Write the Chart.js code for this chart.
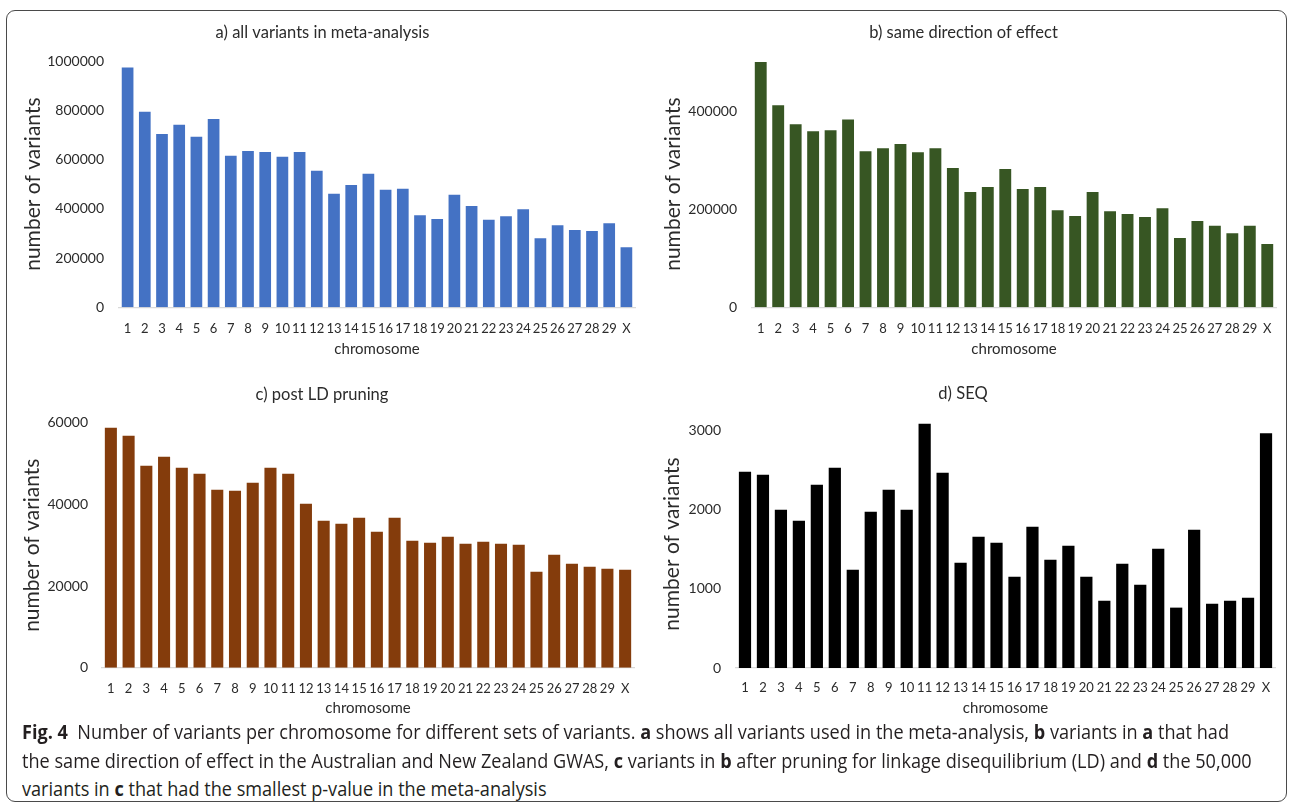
<!DOCTYPE html>
<html>
<head>
<meta charset="utf-8">
<script src="https://cdn.jsdelivr.net/npm/chart.js@4.4.1/dist/chart.umd.min.js"></script>
<style>
  html, body { margin: 0; padding: 0; background: #ffffff; }
  body { width: 1290px; height: 806px; position: relative; overflow: hidden; }
  #frame {
    position: absolute; left: 6px; top: 10px; width: 1281px; height: 792px;
    border: 1.5px solid #4a4a4a; border-radius: 9px; box-sizing: border-box;
  }
  canvas { position: absolute; }
  .cap {
    position: absolute; left: 22px; white-space: nowrap;
    font-family: "Open Sans", "Noto Sans", sans-serif; font-size: 19.5px;
    color: #231f20; transform-origin: 0 50%; line-height: 1;
  }
  .cap b { font-weight: 700; }
</style>
</head>
<body>
<div id="frame"></div>
<canvas id="panelA" width="640" height="355" style="left:10px;top:10px"></canvas>
<canvas id="panelB" width="639" height="355" style="left:651px;top:10px"></canvas>
<canvas id="panelC" width="640" height="350" style="left:10px;top:370px"></canvas>
<canvas id="panelD" width="639" height="350" style="left:651px;top:370px"></canvas>

<div class="cap" id="cap1" style="top:722px"><b>Fig. 4</b>&nbsp; Number of variants per chromosome for different sets of variants. <b>a</b> shows all variants used in the meta-analysis, <b>b</b> variants in <b>a</b> that had</div>
<div class="cap" id="cap2" style="top:751px">the same direction of effect in the Australian and New Zealand GWAS, <b>c</b> variants in <b>b</b> after pruning for linkage disequilibrium (LD) and <b>d</b> the 50,000</div>
<div class="cap" id="cap3" style="top:779px">variants in <b>c</b> that had the smallest p-value in the meta-analysis</div>

<script>
// chromosome categories shared by all four panels
const chromosomes = ['1','2','3','4','5','6','7','8','9','10','11','12','13','14','15',
  '16','17','18','19','20','21','22','23','24','25','26','27','28','29','X'];

// a) all variants in meta-analysis
const allVariants = [974000, 794000, 704000, 741000, 692000, 765000, 615000, 635000, 631000, 611000,
  631000, 554000, 461000, 497000, 542000, 477000, 481000, 374000, 358000, 457000,
  411000, 355000, 370000, 398000, 280000, 333000, 314000, 310000, 341000, 244000];

// b) same direction of effect
const sameDirection = [500000, 412000, 373000, 359000, 361000, 383000, 318000, 324000, 333000, 316000,
  324000, 284000, 235000, 245000, 282000, 241000, 245000, 198000, 186000, 235000,
  196000, 190000, 184000, 202000, 141000, 176000, 166000, 151000, 166000, 129000];

// c) post LD pruning
const postLdPruning = [58750, 56800, 49450, 51650, 48960, 47490, 43570, 43330, 45290, 48960,
  47490, 40150, 35990, 35250, 36720, 33290, 36720, 31090, 30600, 32070,
  30350, 30840, 30350, 30110, 23500, 27660, 25460, 24720, 24240, 23990];

// d) SEQ
const seqVariants = [2475, 2437, 1996, 1857, 2311, 2525, 1239, 1971, 2248, 1996,
  3080, 2462, 1328, 1655, 1580, 1151, 1782, 1366, 1542, 1151,
  849, 1315, 1050, 1504, 761, 1744, 811, 849, 887, 2958];

// y-axis tick values per panel
const ticksA = [0, 200000, 400000, 600000, 800000, 1000000];
const ticksB = [0, 200000, 400000];
const ticksC = [0, 20000, 40000, 60000];
const ticksD = [0, 1000, 2000, 3000];

const FONT = 'Lato, "Open Sans", sans-serif';
const TEXT = '#2b2b2b';

// builds one bar panel; geometry is given in page pixels and converted to paddings
function drawPanel(id, geo, title, values, ticks, yMax, color) {
  const canvas = document.getElementById(id);
  const W = canvas.width, H = canvas.height;
  const cl = geo.left - geo.x, cr = geo.right - geo.x;
  const ct = geo.top - geo.y, cb = geo.bottom - geo.y;

  const titleSize = 16.5, titleLh = titleSize * 1.2;
  const titlePadTop = geo.titleY - geo.y - titleLh / 2;
  const titlePadBottom = ct - titlePadTop - titleLh;

  const yTickSize = 14, yTitleSize = 21, yTitleLh = yTitleSize * 1.2;
  const xTickSize = 13, xTickLh = xTickSize * 1.2;
  const xTitleSize = 15, xTitleLh = xTitleSize * 1.2;

  new Chart(canvas, {
    type: 'bar',
    data: {
      labels: chromosomes,
      datasets: [{
        data: values,
        backgroundColor: color,
        borderWidth: 0,
        categoryPercentage: 1.0,
        barPercentage: 0.68
      }]
    },
    options: {
      responsive: false,
      animation: false,
      devicePixelRatio: 1,
      layout: { padding: { left: 0, top: 0, bottom: 0, right: W - cr } },
      plugins: {
        legend: { display: false },
        tooltip: { enabled: false },
        title: {
          display: true,
          text: title,
          color: TEXT,
          font: { family: FONT, size: titleSize, weight: 'normal' },
          padding: { top: titlePadTop, bottom: titlePadBottom }
        }
      },
      scales: {
        x: {
          grid: { display: false, drawTicks: false },
          border: { display: true, color: '#d9d9d9', width: 1.2 },
          ticks: {
            color: TEXT, autoSkip: false, maxRotation: 0, minRotation: 0,
            font: { family: FONT, size: xTickSize },
            padding: geo.xTickY - geo.y - cb - xTickLh / 2
          },
          title: {
            display: true, text: 'chromosome', color: TEXT,
            font: { family: FONT, size: xTitleSize },
            padding: { top: 0, bottom: H - (geo.xTitleY - geo.y) - xTitleLh / 2 }
          },
          afterFit: (s) => { s.height = H - cb; }
        },
        y: {
          min: 0, max: yMax,
          grid: { display: false, drawTicks: false },
          border: { display: false },
          afterBuildTicks: (s) => { s.ticks = ticks.map(v => ({ value: v })); },
          ticks: {
            color: TEXT,
            font: { family: FONT, size: yTickSize },
            padding: cl - (geo.yTickRight - geo.x),
            callback: (v) => String(v)
          },
          title: {
            display: true, text: 'number of variants', color: TEXT,
            font: { family: FONT, size: yTitleSize },
            padding: { top: geo.yTitleX - geo.x - yTitleLh / 2, bottom: 0 }
          },
          afterFit: (s) => { s.width = cl; }
        }
      }
    }
  });
}

drawPanel('panelA',
  { x: 10, y: 10, left: 119, right: 635, top: 61, bottom: 307.3,
    titleY: 33, yTickRight: 104, yTitleX: 33, xTickY: 329, xTitleY: 349 },
  'a) all variants in meta-analysis', allVariants, ticksA, 1000000, '#4472c4');

drawPanel('panelB',
  { x: 651, y: 10, left: 752, right: 1276, top: 61, bottom: 307.3,
    titleY: 33, yTickRight: 737, yTitleX: 673, xTickY: 329, xTitleY: 349 },
  'b) same direction of effect', sameDirection, ticksB, 502000, '#375623');

drawPanel('panelC',
  { x: 10, y: 370, left: 102, right: 634, top: 422.7, bottom: 667.7,
    titleY: 395, yTickRight: 88, yTitleX: 32, xTickY: 689, xTitleY: 708 },
  'c) post LD pruning', postLdPruning, ticksC, 60000, '#843c0c');

drawPanel('panelD',
  { x: 651, y: 370, left: 736, right: 1275, top: 420, bottom: 668,
    titleY: 394, yTickRight: 721, yTitleX: 672, xTickY: 688, xTitleY: 708 },
  'd) SEQ', seqVariants, ticksD, 3126, '#000000');

// condense the caption lines so the first one spans the legend width
(function fitCaption() {
  const first = document.getElementById('cap1');
  const natural = first.getBoundingClientRect().width;
  const k = 1207 / natural;
  ['cap1', 'cap2', 'cap3'].forEach(id => {
    document.getElementById(id).style.transform = 'scaleX(' + k + ')';
  });
})();
</script>
</body>
</html>
